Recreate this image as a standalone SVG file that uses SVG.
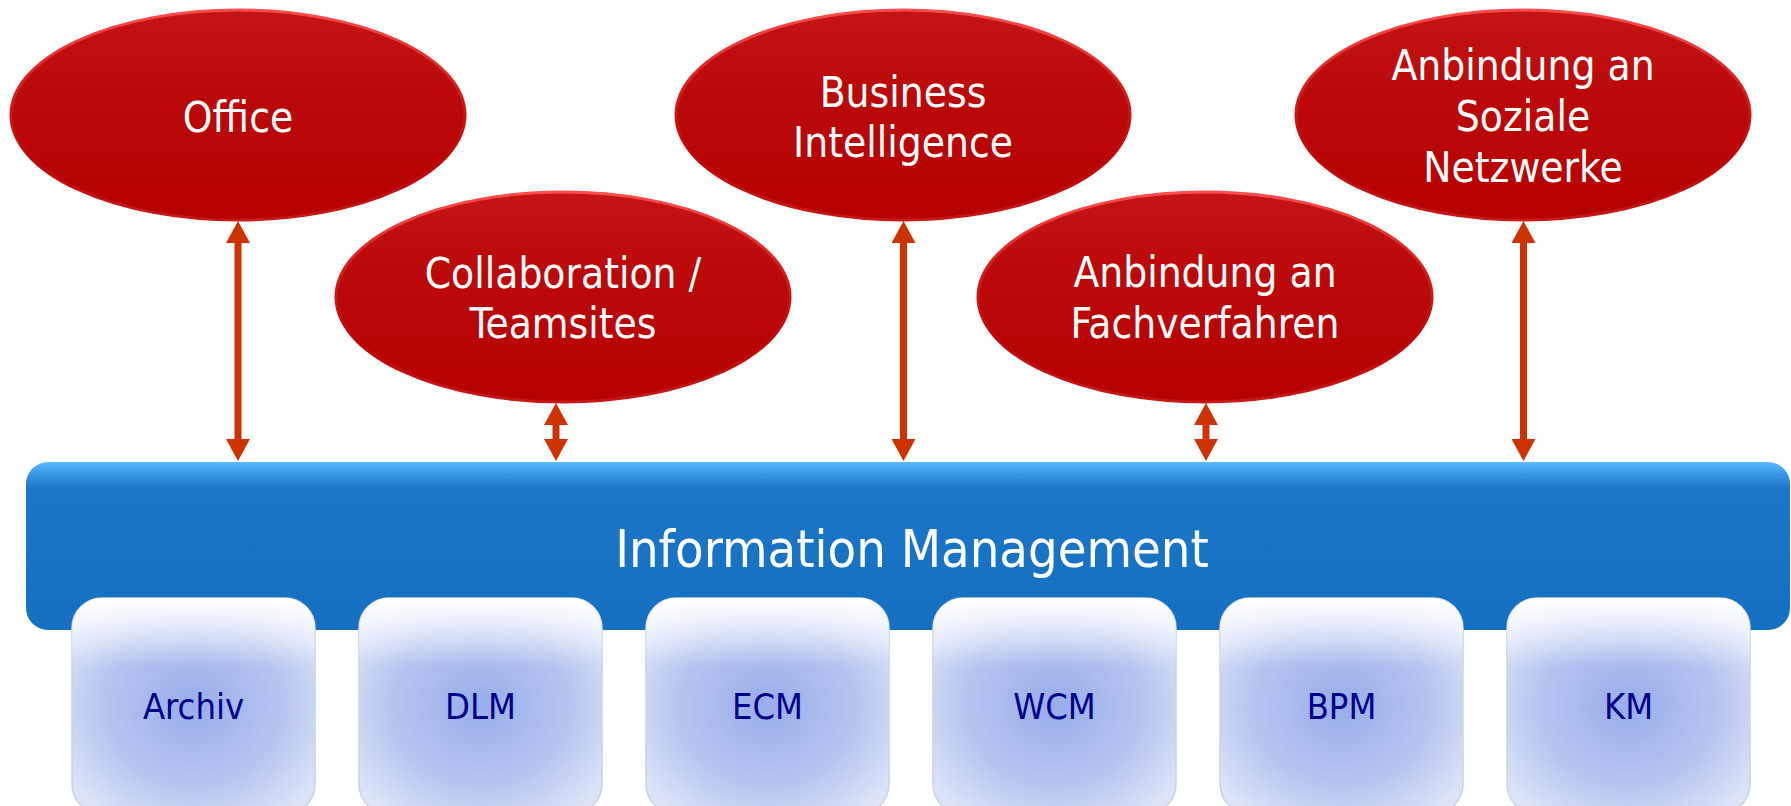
<svg xmlns="http://www.w3.org/2000/svg" width="1791" height="806" viewBox="0 0 1791 806">
<style>
text{font-family:"DejaVu Sans Condensed","DejaVu Sans","Liberation Sans",sans-serif;font-stretch:condensed;text-anchor:middle}
.et{fill:#ffffff;font-size:42px}
.bt{fill:#ffffff;font-size:52px}
.kt{fill:#00008b;font-size:36px}
.ell{fill:url(#redFill);stroke:url(#redRim);stroke-width:3}
.box{fill:url(#boxFill);stroke:#ccd2e2;stroke-width:1.5}
.hl{fill:url(#boxTop)}
.arr{stroke:#cc3300;stroke-width:7;fill:none;marker-start:url(#ah);marker-end:url(#ah)}
</style>
<defs>
<linearGradient id="redFill" x1="0" y1="0" x2="0" y2="1">
<stop offset="0" stop-color="#c41414"/>
<stop offset="0.4" stop-color="#bb0909"/>
<stop offset="1" stop-color="#b70000"/>
</linearGradient>
<linearGradient id="redRim" x1="0" y1="0" x2="0" y2="1">
<stop offset="0" stop-color="#ff4c4c"/>
<stop offset="0.35" stop-color="#d42020"/>
<stop offset="0.7" stop-color="#bb0808"/>
<stop offset="1" stop-color="#c81818"/>
</linearGradient>
<linearGradient id="barFill" x1="0" y1="0" x2="0" y2="1">
<stop offset="0" stop-color="#5cbcff"/>
<stop offset="0.07" stop-color="#3a98e6"/>
<stop offset="0.16" stop-color="#1b76c8"/>
<stop offset="1" stop-color="#1670c2"/>
</linearGradient>
<radialGradient id="boxFill" cx="0.5" cy="0.5" r="0.62">
<stop offset="0" stop-color="#97adea"/>
<stop offset="0.6" stop-color="#b7c5ef"/>
<stop offset="1" stop-color="#dde4f8"/>
</radialGradient>
<linearGradient id="boxTop" x1="0" y1="0" x2="0" y2="1">
<stop offset="0" stop-color="#ffffff" stop-opacity="1"/>
<stop offset="0.12" stop-color="#ffffff" stop-opacity="0.65"/>
<stop offset="0.32" stop-color="#ffffff" stop-opacity="0"/>
</linearGradient>
<marker id="ah" markerUnits="userSpaceOnUse" markerWidth="22" markerHeight="24" refX="0" refY="12" orient="auto-start-reverse" viewBox="0 0 22 24">
<path d="M0,0 L22,12 L0,24 Z" fill="#cc3300"/>
</marker>
</defs>

<g id="info-management">
<rect x="26" y="462" width="1764" height="168" rx="22" fill="url(#barFill)"/>
<text class="bt" x="912" y="567">Information Management</text>
</g>

<g id="archiv"><rect class="box" x="72" y="598" width="243" height="216" rx="30"/><rect class="hl" x="72" y="598" width="243" height="216" rx="30"/><text class="kt" x="193.5" y="719">Archiv</text></g>
<g id="dlm"><rect class="box" x="359" y="598" width="243" height="216" rx="30"/><rect class="hl" x="359" y="598" width="243" height="216" rx="30"/><text class="kt" x="480.5" y="719">DLM</text></g>
<g id="ecm"><rect class="box" x="646" y="598" width="243" height="216" rx="30"/><rect class="hl" x="646" y="598" width="243" height="216" rx="30"/><text class="kt" x="767.5" y="719">ECM</text></g>
<g id="wcm"><rect class="box" x="933" y="598" width="243" height="216" rx="30"/><rect class="hl" x="933" y="598" width="243" height="216" rx="30"/><text class="kt" x="1054.5" y="719">WCM</text></g>
<g id="bpm"><rect class="box" x="1220" y="598" width="243" height="216" rx="30"/><rect class="hl" x="1220" y="598" width="243" height="216" rx="30"/><text class="kt" x="1341.5" y="719">BPM</text></g>
<g id="km"><rect class="box" x="1507" y="598" width="243" height="216" rx="30"/><rect class="hl" x="1507" y="598" width="243" height="216" rx="30"/><text class="kt" x="1628.5" y="719">KM</text></g>

<g id="office">
<ellipse class="ell" cx="238" cy="115" rx="227" ry="105"/>
<text class="et" x="238" y="132">Office</text>
</g>
<g id="collaboration">
<ellipse class="ell" cx="563" cy="297" rx="227" ry="105"/>
<text class="et" x="563" y="288">Collaboration /</text>
<text class="et" x="563" y="338">Teamsites</text>
</g>
<g id="business-intelligence">
<ellipse class="ell" cx="903" cy="115" rx="227" ry="105"/>
<text class="et" x="903" y="107">Business</text>
<text class="et" x="903" y="157">Intelligence</text>
</g>
<g id="fachverfahren">
<ellipse class="ell" cx="1205" cy="297" rx="227" ry="105"/>
<text class="et" x="1205" y="287">Anbindung an</text>
<text class="et" x="1205" y="338">Fachverfahren</text>
</g>
<g id="soziale-netzwerke">
<ellipse class="ell" cx="1523" cy="115" rx="227" ry="105"/>
<text class="et" x="1523" y="80">Anbindung an</text>
<text class="et" x="1523" y="131">Soziale</text>
<text class="et" x="1523" y="182">Netzwerke</text>
</g>

<g id="connectors">
<line class="arr" x1="238" y1="243" x2="238" y2="439"/>
<line class="arr" x1="556" y1="425" x2="556" y2="439"/>
<line class="arr" x1="903.5" y1="243" x2="903.5" y2="439"/>
<line class="arr" x1="1206" y1="425" x2="1206" y2="439"/>
<line class="arr" x1="1523.5" y1="243" x2="1523.5" y2="439"/>
</g>
</svg>
